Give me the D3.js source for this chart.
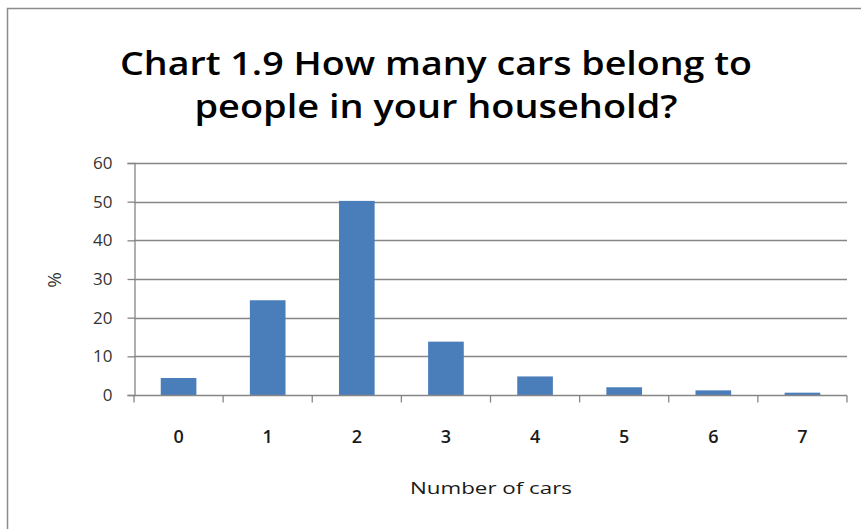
<!DOCTYPE html>
<html>
<head>
<meta charset="utf-8">
<script src="https://cdn.jsdelivr.net/npm/d3@7"></script>
<style>
  html, body { margin: 0; padding: 0; background: #fff; }
  svg { display: block; }
</style>
</head>
<body>
<svg id="chart" width="861" height="529"></svg>
<script>
const categories = ["0", "1", "2", "3", "4", "5", "6", "7"];
const values = [4.4, 24.5, 50.2, 13.8, 4.8, 2.0, 1.2, 0.6];
const yTicks = [0, 10, 20, 30, 40, 50, 60];
const titleLines = ["Chart 1.9 How many cars belong to", "people in your household?"];
const xTitle = "Number of cars";
const yTitle = "%";

const svg = d3.select("#chart");
const plot = { left: 134, right: 847, top: 163, bottom: 395 };
const FONT = "'Open Sans', sans-serif";

// chart border (extends beyond right/bottom edges)
svg.append("rect")
  .attr("x", 7.5).attr("y", 8.5)
  .attr("width", 870).attr("height", 540)
  .attr("fill", "#fff").attr("stroke", "#8c8c8c").attr("stroke-width", 1.5);

const x = d3.scaleBand().domain(categories)
  .range([plot.left, plot.right]).paddingInner(0.6).paddingOuter(0.3);
const y = d3.scaleLinear().domain([0, 60]).range([plot.bottom, plot.top]);

// gridlines
svg.append("g").selectAll("line").data(yTicks.filter(d => d > 0)).join("line")
  .attr("x1", plot.left).attr("x2", plot.right)
  .attr("y1", d => Math.round(y(d)) + 0.5).attr("y2", d => Math.round(y(d)) + 0.5)
  .attr("stroke", "#868686").attr("stroke-width", 1.3);

// bars
svg.append("g").selectAll("rect").data(values).join("rect")
  .attr("x", (d, i) => x(categories[i]))
  .attr("width", x.bandwidth())
  .attr("y", d => y(d))
  .attr("height", d => y(0) - y(d))
  .attr("fill", "#4a7ebb");

// y axis
const yAxis = d3.axisLeft(y).tickValues(yTicks).tickSize(7).tickPadding(15);
const gy = svg.append("g").attr("transform", `translate(${plot.left + 0.5},0)`).call(yAxis)
  .attr("font-family", FONT).attr("font-size", 17);
gy.select(".domain").attr("stroke", "#868686").attr("stroke-width", 1.3);
gy.selectAll(".tick line").attr("stroke", "#868686").attr("stroke-width", 1.3);
gy.selectAll(".tick text")
  .attr("font-family", FONT).attr("font-size", 17)
  .attr("fill", "#333");

// x axis: ticks at category boundaries
const xAxisG = svg.append("g").attr("transform", `translate(0,${plot.bottom + 0.5})`);
xAxisG.append("line").attr("x1", plot.left).attr("x2", plot.right)
  .attr("stroke", "#868686").attr("stroke-width", 1.3);
const boundaries = d3.range(categories.length + 1).map(i => plot.left + i * x.step());
xAxisG.selectAll("line.tk").data(boundaries).join("line").attr("class", "tk")
  .attr("x1", d => d).attr("x2", d => d).attr("y1", 0).attr("y2", 7)
  .attr("stroke", "#868686").attr("stroke-width", 1.3);
xAxisG.selectAll("text").data(categories).join("text")
  .attr("x", d => x(d) + x.bandwidth() / 2)
  .attr("y", 47)
  .attr("text-anchor", "middle")
  .attr("font-family", FONT).attr("font-size", 18).attr("font-weight", 600)
  .attr("fill", "#1a1a1a")
  .text(d => d);

// x title
svg.append("text")
  .attr("x", 491).attr("y", 494)
  .attr("text-anchor", "middle")
  .attr("font-family", FONT).attr("font-size", 17)
  .attr("fill", "#1a1a1a")
  .attr("textLength", 162).attr("lengthAdjust", "spacingAndGlyphs")
  .text(xTitle);

// y title
svg.append("text")
  .attr("transform", "translate(61,280) rotate(-90)")
  .attr("text-anchor", "middle")
  .attr("font-family", FONT).attr("font-size", 19)
  .attr("fill", "#333")
  .text(yTitle);

// title
const titleWidths = [632, 483];
svg.append("g").selectAll("text").data(titleLines).join("text")
  .attr("x", 436).attr("y", (d, i) => 75 + i * 43)
  .attr("text-anchor", "middle")
  .attr("font-family", FONT).attr("font-size", 32).attr("font-weight", 600)
  .attr("fill", "#000")
  .attr("textLength", (d, i) => titleWidths[i]).attr("lengthAdjust", "spacingAndGlyphs")
  .text(d => d);
</script>
</body>
</html>
